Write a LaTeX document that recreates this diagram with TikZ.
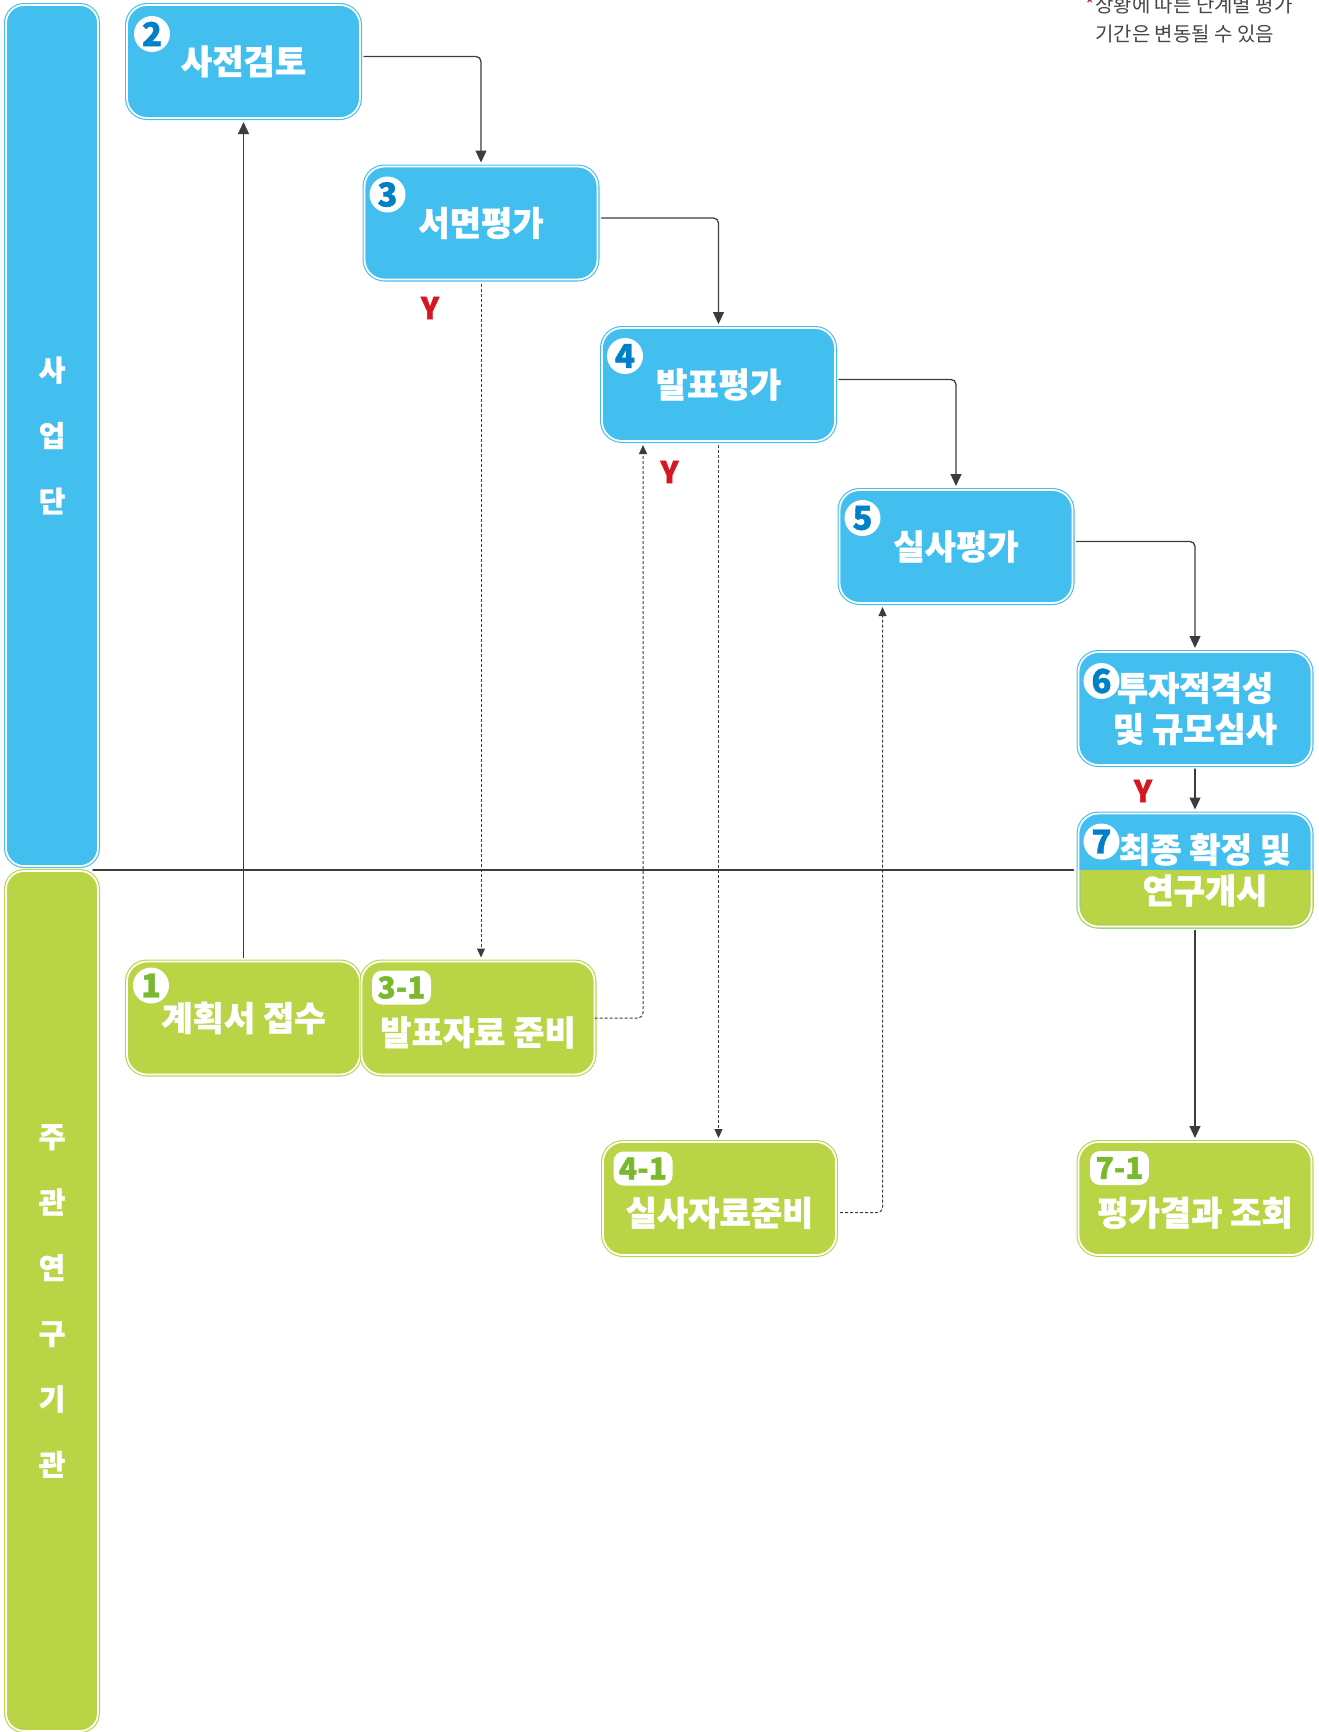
\documentclass[tikz,border=0pt]{standalone}
\usepackage{fontspec}
\setmainfont{Noto Sans CJK KR}[BoldFont={Noto Sans CJK KR Black},BoldFeatures={FakeBold=1.2}]
\usetikzlibrary{arrows.meta,positioning}
\definecolor{skyfill}{RGB}{66,191,239}
\definecolor{limefill}{RGB}{185,213,70}
\definecolor{skynum}{RGB}{0,128,200}
\definecolor{limenum}{RGB}{122,184,46}
\definecolor{linegray}{RGB}{60,60,60}
\definecolor{ymark}{RGB}{214,22,32}
\definecolor{notegray}{RGB}{70,70,70}

\begin{document}
\begin{tikzpicture}[x=1pt,y=-1pt,line join=round,line cap=round,>={Triangle[length=12pt,width=11pt]},
	box/.style={rounded corners=20pt,minimum width=233pt,minimum height=113pt,inner sep=0pt,outer sep=0pt,
		line width=1.1pt,double=white,double distance=1.8pt,text=white,align=center,
		font=\bfseries\fontsize{34}{41}\selectfont},
	skybox/.style={box,draw=skyfill,fill=skyfill},
	limebox/.style={box,draw=limefill,fill=limefill},
	lower/.style={text height=60pt,text depth=6pt},
	lane/.style={box,minimum width=92pt,rounded corners=18pt,font=\bfseries\fontsize{29}{65.6}\selectfont},
	numdot/.style={circle,fill=white,minimum size=36pt,inner sep=0pt,font=\bfseries\fontsize{33}{33}\selectfont},
	numtag/.style={rectangle,rounded corners=10pt,fill=white,minimum width=59pt,minimum height=34pt,inner sep=0pt,
		text=limenum,font=\bfseries\fontsize{30}{30}\selectfont},
	flow/.style={->,draw=linegray,line width=1.3pt,rounded corners=5pt,shorten <=4pt,shorten >=4pt},
	back/.style={flow,>={Triangle[length=9pt,width=8pt]},line width=1pt,line cap=butt,dash pattern=on 3pt off 2pt},
	yes/.style={text=ymark,font=\bfseries\fontsize{30}{30}\selectfont},
	note/.style={anchor=base west,inner sep=0pt,text=notegray,font=\fontsize{20}{24}\selectfont}
	]
	\useasboundingbox (0,0) rectangle (1319,1732);

	\node[lane,draw=skyfill,fill=skyfill,minimum height=861pt] (lane1) at (52,435.5) {사\\업\\단};
	\node[lane,draw=limefill,fill=limefill,minimum height=860pt] (lane2) at (52,1301) {주\\관\\연\\구\\기\\관};

	\node[skybox] (n2) at (243.5,61.5) {사전검토};
	\node[skybox] (n3) at (481,223) {서면평가};
	\node[skybox] (n4) at (718.5,384.5) {발표평가};
	\node[skybox] (n5) at (956,546.5) {실사평가};
	\node[skybox] (n6) at (1195,708.5) {투자적격성\\및 규모심사};
	\node[skybox,path picture={\fill[limefill,sharp corners] (path picture bounding box.west) rectangle (path picture bounding box.south east);}] (n7) at (1195,870) {\hspace*{20pt}최종 확정 및\\\hspace*{20pt}연구개시};
	\begin{scope}
		\clip ([xshift=-5pt]n7.west) rectangle ([shift={(5,5)}]n7.south east);
		\draw[limefill,line width=1.1pt,double=white,double distance=1.8pt,rounded corners=20pt] (n7.north west) rectangle (n7.south east);
	\end{scope}

	\node[limebox] (n1) at (243.5,1018) {계획서 접수};
	\node[limebox,lower] (n31) at (478,1018) {발표자료 준비};
	\node[limebox,lower] (n41) at (719.5,1198.5) {실사자료준비};
	\node[limebox,lower] (n71) at (1195,1198.5) {평가결과 조회};

	\node[numdot,text=skynum] (b2) at ([shift={(25,29)}]n2.north west) {2};
	\node[numdot,text=skynum] (b3) at ([shift={(23,28)}]n3.north west) {3};
	\node[numdot,text=skynum] (b4) at ([shift={(23,28)}]n4.north west) {4};
	\node[numdot,text=skynum] (b5) at ([shift={(23,28)}]n5.north west) {5};
	\node[numdot,text=skynum] (b6) at ([shift={(23,29)}]n6.north west) {6};
	\node[numdot,text=skynum] (b7) at ([shift={(23,28)}]n7.north west) {7};
	\node[numdot,text=limenum] (b1) at ([shift={(24,24)}]n1.north west) {1};
	\node[numtag] (t31) at ([shift={(40,26)}]n31.north west) {3-1};
	\node[numtag] (t41) at ([shift={(40,26.5)}]n41.north west) {4-1};
	\node[numtag] (t71) at ([shift={(41,26)}]n71.north west) {7-1};

	\node[yes] (y3) at (430,308) {Y};
	\node[yes] (y4) at (669.5,472) {Y};
	\node[yes] (y6) at (1143,791) {Y};

	\node[note] (note1) at (1095,12) {\llap{\textcolor{ymark}{*}}상황에 따른 단계별 평가};
	\node[note] (note2) at (1095,41) {기간은 변동될 수 있음};

	\draw[flow] ([yshift=5pt]n2.east) -| (n3.north);
	\draw[flow] ([yshift=5pt]n3.east) -| (n4.north);
	\draw[flow] ([yshift=5pt]n4.east) -| (n5.north);
	\draw[flow] ([yshift=5pt]n5.east) -| (n6.north);
	\draw[flow] (n6.south) -- (n7.north);
	\draw[flow] (n1.north) -- (n2.south);
	\draw[flow] (n7.south) -- (n71.north);
	\draw[back] (n3.south) -- (n3.south |- n31.north);
	\draw[back,shorten <=0pt] (n31.east) -| ([xshift=41pt]n4.south west);
	\draw[back] (n4.south) -- (n4.south |- n41.north);
	\draw[back] ([yshift=-14pt]n41.east) -| ([xshift=43pt]n5.south west);
	\draw[linegray,line width=1.5pt,shorten <=-5pt,shorten >=5pt] (n7.west -| lane1.east) -- (n7.west);
\end{tikzpicture}
\end{document}
